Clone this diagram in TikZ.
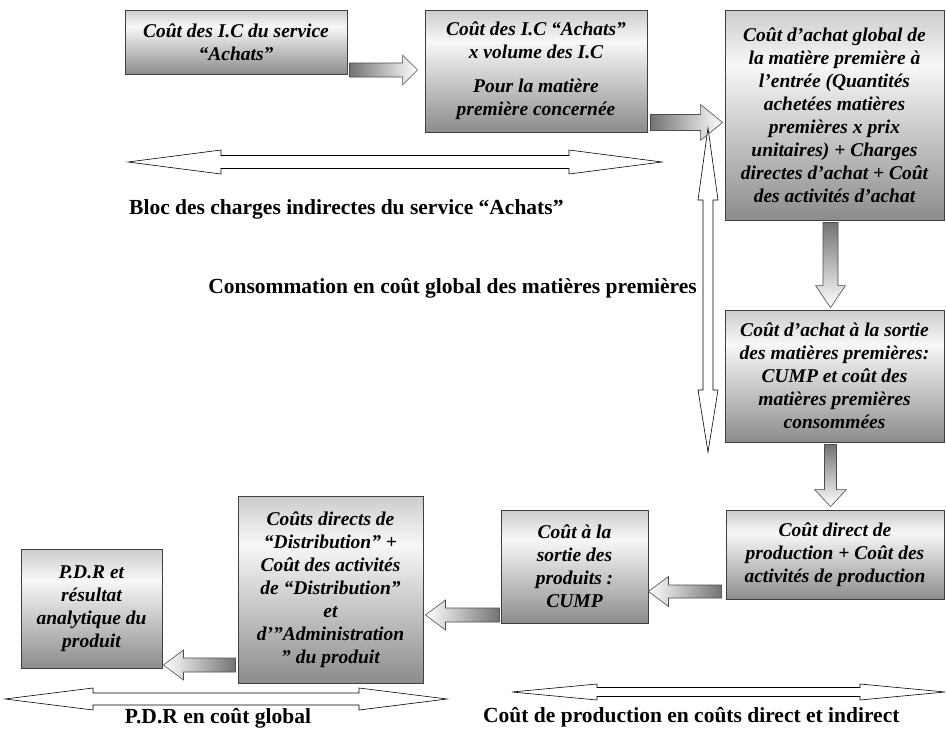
\documentclass[tikz,border=0pt]{standalone}
\usepackage{fontspec}
\setmainfont{Liberation Serif}
\usetikzlibrary{calc}
\pgfdeclareverticalshading{boxshade}{100bp}{color(0bp)=(black!45); color(25bp)=(black!45); color(62bp)=(black!3); color(75bp)=(black!20); color(100bp)=(black!20)}
\tikzset{
  box/.style={draw=black!75, line width=0.9pt, shading=boxshade, inner sep=0pt, align=center,
    font=\fontsize{19.5}{23}\selectfont\bfseries\itshape},
  lbl/.style={inner sep=0pt, font=\fontsize{21.5}{24}\selectfont\bfseries},
  hollow/.style={draw=black, line width=0.6pt, fill=white},
  arrR/.style={draw=black!70, line width=0.6pt, left color=black!55, right color=white},
  arrL/.style={draw=black!70, line width=0.6pt, right color=black!55, left color=white},
  arrD/.style={draw=black!70, line width=0.6pt, top color=black!55, bottom color=white},
}
% horizontal block arrow: style, start, end, shaft half width, head half width, head length
\newcommand\hblock[6]{\path[#1] let \p1=(#2), \p2=(#3), \n1={ifthenelse(\x2>\x1,1,-1)} in
  (\x1,\y1+#4) -- (\x2-\n1*#6,\y1+#4) -- (\x2-\n1*#6,\y1+#5) -- (\x2,\y1) -- (\x2-\n1*#6,\y1-#5) -- (\x2-\n1*#6,\y1-#4) -- (\x1,\y1-#4) -- cycle;}
\newcommand\vblock[6]{\path[#1] let \p1=(#2), \p2=(#3), \n1={ifthenelse(\y2>\y1,1,-1)} in
  (\x1+#4,\y1) -- (\x1+#4,\y2-\n1*#6) -- (\x1+#5,\y2-\n1*#6) -- (\x1,\y2) -- (\x1-#5,\y2-\n1*#6) -- (\x1-#4,\y2-\n1*#6) -- (\x1-#4,\y1) -- cycle;}
% hollow double arrow: left tip, right tip, shaft half, head half, head length
\newcommand\hdouble[5]{\path[hollow] let \p1=(#1), \p2=(#2) in
  (\x1,\y1) -- (\x1+#5,\y1+#4) -- (\x1+#5,\y1+#3) -- (\x2-#5,\y1+#3) -- (\x2-#5,\y1+#4) -- (\x2,\y1) -- (\x2-#5,\y1-#4) -- (\x2-#5,\y1-#3) -- (\x1+#5,\y1-#3) -- (\x1+#5,\y1-#4) -- cycle;}
% vertical hollow double arrow: top tip, bottom tip, shaft half, head half, top head length, bottom head length
\newcommand\vdouble[6]{\path[hollow] let \p1=(#1), \p2=(#2) in
  (\x1,\y1) -- (\x1+#4,\y1-#5) -- (\x1+#3,\y1-#5) -- (\x1+#3,\y2+#6) -- (\x1+#4,\y2+#6) -- (\x1,\y2) -- (\x1-#4,\y2+#6) -- (\x1-#3,\y2+#6) -- (\x1-#3,\y1-#5) -- (\x1-#4,\y1-#5) -- cycle;}
\begin{document}
\begin{tikzpicture}[x=1pt,y=-1pt]
\useasboundingbox (0,0) rectangle (946,729);
\fill[white] (0,0) rectangle (946,729);

\node[box, minimum width=222pt, minimum height=64pt] (b1) at (236,42) {Coût des I.C du service\\“Achats”};
\node[box, minimum width=222pt, minimum height=122pt] (b2) at (536,71) {Coût des I.C “Achats”\\x volume des I.C\\[11pt]Pour la matière\\première concernée};
\node[box, minimum width=219pt, minimum height=210pt] (b3) at (834.5,115) {Coût d’achat global de\\la matière première à\\l’entrée (Quantités\\achetées matières\\premières x prix\\unitaires) + Charges\\directes d’achat + Coût\\des activités d’achat};
\node[box, minimum width=219pt, minimum height=132pt] (b4) at (834.5,376) {Coût d’achat à la sortie\\des matières premières:\\CUMP et coût des\\matières premières\\consommées};
\node[box, minimum width=218pt, minimum height=89pt] (b5) at (835,554.5) {Coût direct de\\production + Coût des\\activités de production};
\node[box, minimum width=147pt, minimum height=113pt] (b6) at (574.5,566.5) {Coût à la\\sortie des\\produits :\\CUMP};
\node[box, minimum width=185pt, minimum height=187pt] (b7) at (330.5,589.5) {Coûts directs de\\“Distribution” +\\Coût des activités\\de “Distribution”\\et\\d’”Administration\\” du produit};
\node[box, minimum width=141pt, minimum height=119pt] (b8) at (91.5,608.5) {P.D.R et\\résultat\\analytique du\\produit};

% block arrows between boxes
\coordinate (a1s) at ($(b1.east)+(2,28)$);
\coordinate (a1e) at ($(b2.west)+(-7,-1)$);
\hblock{arrR}{a1s}{a1e}{7pt}{15pt}{15pt}
\coordinate (a2s) at ($(b2.south east)+(3,-10)$);
\coordinate (a2e) at ($(b3.west)+(-2,7)$);
\hblock{arrR}{a2s}{a2e}{8pt}{18pt}{22pt}
\coordinate (d1s) at ($(b3.south)+(-4,2)$);
\coordinate (d1e) at ($(b4.north)+(0,-2)$);
\vblock{arrD}{d1s}{d1e}{7.5pt}{15pt}{22pt}
\coordinate (d2s) at ($(b4.south)+(-4,2)$);
\coordinate (d2e) at ($(b5.north)+(0,-3)$);
\vblock{arrD}{d2s}{d2e}{6pt}{16pt}{17pt}
\coordinate (l1s) at ($(b5.west)+(-4,37)$);
\coordinate (l1e) at ($(b6.east)+(0,25)$);
\hblock{arrL}{l1s}{l1e}{6.5pt}{15pt}{20pt}
\coordinate (l2s) at ($(b6.west)+(-1,48.5)$);
\coordinate (l2e) at ($(b7.east)+(2,25.5)$);
\hblock{arrL}{l2s}{l2e}{7pt}{15pt}{20pt}
\coordinate (l3s) at ($(b7.west)+(-2,75.5)$);
\coordinate (l3e) at ($(b8.east)+(1,56.5)$);
\hblock{arrL}{l3s}{l3e}{7pt}{15pt}{20pt}

% hollow double arrows
\coordinate (hA1) at (128,162);
\coordinate (hA2) at (662,162);
\hdouble{hA1}{hA2}{6.5pt}{12pt}{93pt}
\coordinate (hB1) at (5,699);
\coordinate (hB2) at (447,699);
\hdouble{hB1}{hB2}{6pt}{11pt}{88pt}
\coordinate (hC1) at (512,692);
\coordinate (hC2) at (945,692);
\hdouble{hC1}{hC2}{4.5pt}{8pt}{85pt}
\coordinate (vT) at (708,128);
\coordinate (vB) at (708,452);
\vdouble{vT}{vB}{5pt}{10pt}{72pt}{62pt}

% labels
\node[lbl, anchor=west] (t1) at (129,209) {Bloc des charges indirectes du service “Achats”};
\node[lbl, anchor=east] (t2) at (697,288) {Consommation en coût global des matières premières};
\node[lbl] (t3) at (218,718) {P.D.R en coût global};
\node[lbl, anchor=west] (t4) at (483,717) {Coût de production en coûts direct et indirect};
\end{tikzpicture}
\end{document}
